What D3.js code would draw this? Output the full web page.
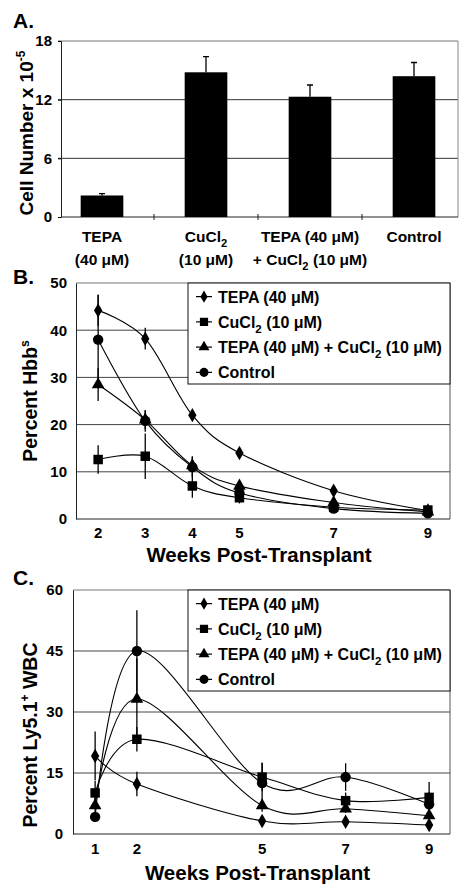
<!DOCTYPE html>
<html><head><meta charset="utf-8">
<script src="https://cdn.jsdelivr.net/npm/d3@7"></script>
<style>
body{margin:0;background:#fff}
text{font-family:"Liberation Sans",Arial,sans-serif;font-weight:bold;fill:#000}
</style>
</head><body>
<svg id="chart" width="472" height="894"></svg>
<script>
// ---------- Panel A data ----------
const barCategories = ["TEPA", "CuCl2", "TEPA+CuCl2", "Control"];
const barLabelLines = [["TEPA", "(40 μM)"], ["CuCl_2", "(10 μM)"], ["TEPA (40 μM)", "+ CuCl_2 (10 μM)"], ["Control"]];
const barValues = [2.2, 14.8, 12.3, 14.4];
const barErrors = [0.2, 1.6, 1.2, 1.4];
const barYTicks = [0, 6, 12, 18];

// ---------- Shared legend ----------
const seriesNames = ["TEPA (40 μM)", "CuCl_2 (10 μM)", "TEPA (40 μM) + CuCl_2 (10 μM)", "Control"];
const seriesSymbols = ["diamond", "square", "triangle", "circle"];

// ---------- Panel B data (Percent Hbb^s) ----------
const hbbWeeks = [2, 3, 4, 5, 7, 9];
const hbbTEPA = [44.2, 38.2, 22.0, 14.0, 6.0, 1.8];
const hbbCuCl2 = [12.6, 13.3, 7.0, 4.5, 2.5, 1.9];
const hbbCombo = [28.5, 21.0, 11.3, 7.0, 3.5, 1.5];
const hbbControl = [38.0, 20.8, 11.0, 5.5, 2.2, 1.2];
const hbbTEPAErr = [3.3, 2.3, 0.8, 0.6, 0.4, 0.3];
const hbbCuCl2Err = [3.0, 4.8, 2.5, 1.2, 0.5, 0.4];
const hbbComboErr = [3.5, 2.0, 2.0, 1.0, 0.8, 0.4];
const hbbControlErr = [9.5, 2.3, 2.2, 1.5, 0.5, 0.4];
const hbbYTicks = [0, 10, 20, 30, 40, 50];

// ---------- Panel C data (Percent Ly5.1+ WBC) ----------
const wbcWeeks = [1, 2, 5, 7, 9];
const wbcTEPA = [19.2, 12.3, 3.2, 3.0, 2.2];
const wbcCuCl2 = [10.1, 23.3, 14.0, 8.2, 9.0];
const wbcCombo = [7.0, 33.2, 7.0, 6.2, 4.5];
const wbcControl = [4.2, 45.0, 12.5, 14.0, 7.3];
const wbcTEPAErr = [6.0, 3.0, 0.5, 0.5, 0.5];
const wbcCuCl2Err = [3.0, 3.0, 3.5, 2.0, 3.8];
const wbcComboErr = [2.0, 10.0, 1.5, 1.0, 1.0];
const wbcControlErr = [1.0, 10.0, 5.0, 3.4, 3.0];
const wbcYTicks = [0, 15, 30, 45, 60];

const svg = d3.select("#chart");

// text with "_2" subscripts
function richText(sel, str, size) {
  const parts = str.split("_");
  parts.forEach((p, i) => {
    if (i === 0) { sel.append("tspan").text(p); return; }
    sel.append("tspan").attr("font-size", size * 0.72).attr("dy", size * 0.3).text(p[0]);
    sel.append("tspan").attr("dy", -size * 0.3).text(p.slice(1));
  });
}

const symMap = {diamond: d3.symbolDiamond, square: d3.symbolSquare, triangle: d3.symbolTriangle, circle: d3.symbolCircle};
const symSize = {diamond: 60, square: 90, triangle: 70, circle: 85};

// ================= Panel A =================
(function () {
  const L = 61, R = 458, T = 41, B = 217;
  const x = d3.scaleBand().domain(barCategories).range([50, 466]).paddingInner(0.59).paddingOuter(0.295);
  const y = d3.scaleLinear().domain([0, 18]).range([B, T]);
  const g = svg.append("g");
  g.append("text").attr("x", 13).attr("y", 28).attr("font-size", 21).text("A.");
  g.selectAll(".grid").data(barYTicks.filter(d => d > 0)).join("line")
    .attr("x1", L - 3).attr("x2", R).attr("y1", d => y(d)).attr("y2", d => y(d))
    .attr("stroke", d => d === 18 ? "#777" : "#333").attr("stroke-width", 1);
  g.append("line").attr("x1", R).attr("x2", R).attr("y1", T).attr("y2", B).attr("stroke", "#888");
  const ya = g.append("g").attr("transform", `translate(${L},0)`)
    .call(d3.axisLeft(y).tickValues(barYTicks).tickSize(3).tickPadding(6));
  ya.select(".domain").attr("stroke", "#222");
  ya.selectAll("text").attr("font-size", 15).attr("font-family", "Liberation Sans, Arial").attr("font-weight", "bold");
  g.append("line").attr("x1", L).attr("x2", R).attr("y1", B).attr("y2", B).attr("stroke", "#222");
  g.selectAll(".sep").data(barCategories.slice(1)).join("line")
    .attr("x1", d => x(d) - x.step() * x.paddingInner() / 2).attr("x2", d => x(d) - x.step() * x.paddingInner() / 2)
    .attr("y1", B - 3).attr("y2", B + 3).attr("stroke", "#222");
  g.selectAll(".bar").data(barValues).join("rect")
    .attr("x", (d, i) => x(barCategories[i])).attr("width", x.bandwidth())
    .attr("y", d => y(d)).attr("height", d => B - y(d)).attr("fill", "#000");
  g.selectAll(".err").data(barValues).join("path")
    .attr("d", (d, i) => {
      const cx = x(barCategories[i]) + x.bandwidth() / 2, yt = y(d + barErrors[i]);
      return `M${cx},${y(d)}V${yt}M${cx - 3},${yt}H${cx + 3}`;
    }).attr("stroke", "#000").attr("stroke-width", 1.3).attr("fill", "none");
  barLabelLines.forEach((lines, i) => {
    const cx = x(barCategories[i]) + x.bandwidth() / 2;
    lines.forEach((ln, j) => {
      const t = g.append("text").attr("x", cx).attr("y", 242 + j * 23).attr("text-anchor", "middle").attr("font-size", 15.5);
      richText(t, ln, 15.5);
    });
  });
  const yt = g.append("text").attr("transform", `translate(33,133) rotate(-90)`).attr("text-anchor", "middle").attr("font-size", 19);
  yt.append("tspan").text("Cell Number x 10");
  yt.append("tspan").attr("font-size", 12).attr("dy", -8).text("-5");
})();

// ================= Line panels =================
function linePanel(cfg) {
  const {L, R, T, B, xDomain, yDomain, yTicks, weeks, series, errors, letter, letterY, titleParts, titleX, titleY, tickLabelY, xTitleY, legendBottom} = cfg;
  const x = d3.scaleLinear().domain(xDomain).range([L, R]);
  const y = d3.scaleLinear().domain(yDomain).range([B, T]);
  const g = svg.append("g");
  g.append("text").attr("x", 13).attr("y", letterY).attr("font-size", 21).text(letter);
  g.selectAll(".grid").data(yTicks.filter(d => d > yDomain[0])).join("line")
    .attr("x1", L).attr("x2", R).attr("y1", d => y(d)).attr("y2", d => y(d))
    .attr("stroke", d => d === yDomain[1] ? "#777" : "#444").attr("stroke-width", 1);
  g.append("line").attr("x1", R).attr("x2", R).attr("y1", T).attr("y2", B).attr("stroke", "#555");
  g.append("line").attr("x1", L).attr("x2", R).attr("y1", B).attr("y2", B).attr("stroke", "#222");
  const ya = g.append("g").attr("transform", `translate(${L},0)`)
    .call(d3.axisLeft(y).tickValues(yTicks).tickSize(0).tickPadding(cfg.yPad));
  ya.select(".domain").attr("stroke", "#222");
  ya.selectAll("text").attr("font-size", 15).attr("font-family", "Liberation Sans, Arial").attr("font-weight", "bold");
  g.selectAll(".xt").data(weeks).join("text")
    .attr("x", d => x(d)).attr("y", tickLabelY).attr("text-anchor", "middle").attr("font-size", 15).text(d => d);
  g.append("text").attr("x", (L + R) / 2 - 4).attr("y", xTitleY).attr("text-anchor", "middle").attr("font-size", 20.5).text("Weeks Post-Transplant");
  const yt = g.append("text").attr("transform", `translate(${titleX},${titleY}) rotate(-90)`).attr("text-anchor", "middle").attr("font-size", 19.5);
  yt.append("tspan").text(titleParts[0]);
  yt.append("tspan").attr("font-size", 12).attr("dy", -8).text(titleParts[1]);
  yt.append("tspan").attr("dy", 8).text(titleParts[2]);

  const lgL = 188;
  g.append("rect").attr("x", lgL).attr("y", T).attr("width", R - lgL).attr("height", legendBottom - T)
    .attr("fill", "#fff").attr("stroke", "#111").attr("stroke-width", 1);

  const line = d3.line().x((d, i) => x(weeks[i])).y(d => y(d)).curve(d3.curveCardinal.tension(0));
  series.forEach((s, k) => {
    g.selectAll(null).data(s).join("line")
      .attr("x1", (d, i) => x(weeks[i])).attr("x2", (d, i) => x(weeks[i]))
      .attr("y1", (d, i) => y(Math.max(0, d - errors[k][i]))).attr("y2", (d, i) => y(d + errors[k][i]))
      .attr("stroke", "#000").attr("stroke-width", 1.3);
  });
  series.forEach((s) => {
    g.append("path").datum(s).attr("d", line).attr("fill", "none").attr("stroke", "#000").attr("stroke-width", 1.1);
  });
  series.forEach((s, k) => {
    const sym = d3.symbol().type(symMap[seriesSymbols[k]]).size(symSize[seriesSymbols[k]]);
    g.selectAll(null).data(s).join("path")
      .attr("transform", (d, i) => `translate(${x(weeks[i])},${y(d)})`).attr("d", sym).attr("fill", "#000");
  });
  const rowH = (legendBottom - T) / 4;
  seriesNames.forEach((nm, k) => {
    const cy = T + rowH * (k + 0.5) + 1;
    g.append("line").attr("x1", 196).attr("x2", 212).attr("y1", cy).attr("y2", cy).attr("stroke", "#000").attr("stroke-width", 1.2);
    g.append("path").attr("transform", `translate(204,${cy})`)
      .attr("d", d3.symbol().type(symMap[seriesSymbols[k]]).size(symSize[seriesSymbols[k]] * 0.75)).attr("fill", "#000");
    const t = g.append("text").attr("x", 218).attr("y", cy + 6).attr("font-size", 16);
    richText(t, nm, 16);
  });
}

linePanel({
  L: 76, R: 450, T: 283, B: 519, xDomain: [1.53, 9.47], yDomain: [0, 50], yTicks: hbbYTicks,
  weeks: hbbWeeks, series: [hbbTEPA, hbbCuCl2, hbbCombo, hbbControl],
  errors: [hbbTEPAErr, hbbCuCl2Err, hbbComboErr, hbbControlErr],
  letter: "B.", letterY: 284, titleParts: ["Percent Hbb", "s", ""], titleX: 37, titleY: 401,
  tickLabelY: 538, xTitleY: 562, legendBottom: 384, yPad: 9
});

linePanel({
  L: 73, R: 450, T: 590, B: 834, xDomain: [0.47, 9.5], yDomain: [0, 60], yTicks: wbcYTicks,
  weeks: wbcWeeks, series: [wbcTEPA, wbcCuCl2, wbcCombo, wbcControl],
  errors: [wbcTEPAErr, wbcCuCl2Err, wbcComboErr, wbcControlErr],
  letter: "C.", letterY: 585, titleParts: ["Percent Ly5.1", "+", " WBC"], titleX: 37, titleY: 735,
  tickLabelY: 854, xTitleY: 880, legendBottom: 691, yPad: 10
});
</script>
</body></html>
